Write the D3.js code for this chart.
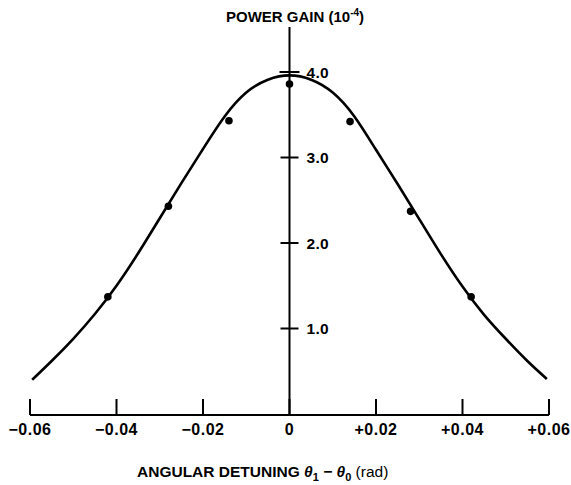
<!DOCTYPE html>
<html><head><meta charset="utf-8">
<script src="https://cdn.jsdelivr.net/npm/d3@7"></script>
<style>body{margin:0;background:#fff}svg{display:block}</style>
</head><body>
<script>
// data
const curveX = [-0.0595,-0.055,-0.05,-0.045,-0.04,-0.035,-0.03,-0.025,-0.02,-0.015,-0.01,-0.005,0,0.005,0.01,0.015,0.02,0.025,0.03,0.035,0.04,0.045,0.05,0.055,0.0595];
const curveY = [0.40,0.62,0.88,1.17,1.50,1.88,2.29,2.70,3.10,3.48,3.76,3.91,3.96,3.91,3.76,3.48,3.09,2.69,2.28,1.87,1.49,1.16,0.88,0.62,0.41];
const pointX = [-0.042,-0.028,-0.014,0,0.014,0.028,0.042];
const pointY = [1.37,2.43,3.43,3.86,3.42,2.37,1.37];
const xTicks = [-0.06,-0.04,-0.02,0,0.02,0.04,0.06];
const xTickLabels = ["\u22120.06","\u22120.04","\u22120.02","0","+0.02","+0.04","+0.06"];
const yTicks = [1,2,3,4];
const yTickLabels = ["1.0","2.0","3.0","4.0"];

const W = 571, H = 485;
const svg = d3.select("body").append("svg").attr("width", W).attr("height", H);
const font = "'Liberation Sans', Arial, Helvetica, sans-serif";

const x = d3.scaleLinear().domain([-0.06, 0.06]).range([30, 549]);
const y = d3.scaleLinear().domain([0, 4]).range([414, 72]);

// x axis
const xAxisG = svg.append("g").attr("transform", `translate(0,${y(0) + 1})`);
xAxisG.append("line").attr("x1", x(-0.06)).attr("x2", x(0.06)).attr("y1", 0).attr("y2", 0)
  .attr("stroke", "#000").attr("stroke-width", 2);
xAxisG.selectAll("line.tick").data(xTicks).join("line").attr("class","tick")
  .attr("x1", d => x(d)).attr("x2", d => x(d)).attr("y1", 0).attr("y2", -16)
  .attr("stroke", "#000").attr("stroke-width", 2);
xAxisG.selectAll("text").data(xTicks).join("text")
  .attr("x", d => x(d)).attr("y", 20)
  .attr("text-anchor", "middle")
  .attr("font-family", font).attr("font-weight", "bold").attr("font-size", 16)
  .attr("letter-spacing", 0.5)
  .text((d, i) => xTickLabels[i]);

// y axis
svg.append("line").attr("x1", x(0)).attr("x2", x(0)).attr("y1", 27).attr("y2", y(0) + 1)
  .attr("stroke", "#000").attr("stroke-width", 2);
svg.selectAll("line.ytick").data(yTicks).join("line").attr("class","ytick")
  .attr("x1", d => x(0) - (d === 4 ? 10 : 9)).attr("x2", d => x(0) + (d === 4 ? 10 : 9))
  .attr("y1", d => y(d)).attr("y2", d => y(d))
  .attr("stroke", "#000").attr("stroke-width", 2);
svg.selectAll("text.ylab").data(yTicks).join("text").attr("class","ylab")
  .attr("x", x(0) + 17).attr("y", d => y(d) + 5.5)
  .attr("font-family", font).attr("font-weight", "bold").attr("font-size", 15.5)
  .attr("letter-spacing", 0.3)
  .text((d, i) => yTickLabels[i]);

// curve
const line = d3.line().x(d => x(d[0])).y(d => y(d[1])).curve(d3.curveNatural);
svg.append("path").datum(curveX.map((v, i) => [v, curveY[i]]))
  .attr("d", line).attr("fill", "none").attr("stroke", "#000").attr("stroke-width", 2.6);

// points
svg.selectAll("circle").data(pointX.map((v, i) => [v, pointY[i]])).join("circle")
  .attr("cx", d => x(d[0])).attr("cy", d => y(d[1])).attr("r", 3.8).attr("fill", "#000");

// titles
const t = svg.append("text").attr("x", 226).attr("y", 22)
  .attr("font-family", font).attr("font-weight", "bold").attr("font-size", 15);
t.append("tspan").text("POWER GAIN (10");
t.append("tspan").attr("font-size", 10).attr("dy", -6).text("-4");
t.append("tspan").attr("dy", 6).text(")");

const xt = svg.append("text").attr("x", 137).attr("y", 477)
  .attr("font-family", font).attr("font-weight", "bold").attr("font-size", 15.5);
xt.append("tspan").text("ANGULAR DETUNING ");
xt.append("tspan").attr("font-style", "italic").text("\u03B8");
xt.append("tspan").attr("font-size", 11).attr("dy", 4).text("1");
xt.append("tspan").attr("dy", -4).text(" \u2212 ");
xt.append("tspan").attr("font-style", "italic").text("\u03B8");
xt.append("tspan").attr("font-size", 11).attr("dy", 4).text("0");
xt.append("tspan").attr("dy", -4).attr("font-weight", "normal").text("  (rad)");
</script>
</body></html>
